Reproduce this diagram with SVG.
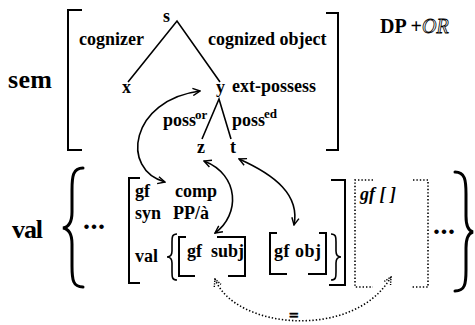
<svg xmlns="http://www.w3.org/2000/svg" width="475" height="325" viewBox="0 0 475 325" font-family="'Liberation Serif', 'DejaVu Serif', serif">
<style>
text{font-weight:bold;fill:#000}
.t{font-size:18px}
.dp{font-size:20px}
.big{font-size:26px}
.sup{font-size:13px}
.dots{font-size:28px}
.ln{fill:none;stroke:#000;stroke-width:1.6}
.br{fill:none;stroke:#000;stroke-width:2}
.dot{fill:none;stroke:#000;stroke-width:1.6;stroke-dasharray:1.4 2}
.brace{fill:none;stroke:#000;stroke-width:3;stroke-linecap:round}
.sbrace{fill:none;stroke:#000;stroke-width:1.6}
</style>
<defs>
<marker id="ah" viewBox="0 0 10 10" refX="9" refY="5" markerWidth="9" markerHeight="9" markerUnits="userSpaceOnUse" orient="auto-start-reverse">
<path d="M1,1 L9,5 L1,9" fill="none" stroke="#000" stroke-width="1.6"/>
</marker>
<marker id="ahd" viewBox="0 0 10 10" refX="9" refY="5" markerWidth="9" markerHeight="9" markerUnits="userSpaceOnUse" orient="auto-start-reverse">
<path d="M1,1 L9,5 L1,9" fill="none" stroke="#000" stroke-width="1.6" stroke-dasharray="1.4 1.4"/>
</marker>
</defs>

<g id="sem">
<text class="big" x="8" y="88" textLength="44">sem</text>
<path class="br" d="M82,10 H68 V150 H82"/>
<path class="br" d="M326,13 H338 V150 H326"/>
</g>
<g id="dp">
<text class="dp" x="380" y="33">DP +<tspan font-style="italic" font-weight="normal" fill="#fff" stroke="#000" stroke-width="0.8">OR</tspan></text>
</g>
<g id="node-s"><text class="t" x="163" y="22">s</text></g>
<g id="node-x"><text class="t" x="122" y="93">x</text></g>
<g id="node-y"><text class="t" x="216" y="93">y</text></g>
<g id="node-z"><text class="t" x="197" y="153">z</text></g>
<g id="node-t"><text class="t" x="230" y="153">t</text></g>
<g id="labels">
<text class="t" x="79" y="45">cognizer</text>
<text class="t" x="208" y="45">cognized object</text>
<text class="t" x="232" y="92">ext-possess</text>
<text class="t" x="163" y="126">poss</text>
<text class="sup" x="195" y="119">or</text>
<text class="t" x="232" y="126">poss</text>
<text class="sup" x="264" y="118">ed</text>
</g>

<g id="val">
<text class="big" x="12" y="238" textLength="31">val</text>
<path class="brace" d="M83,168 C73,168 72,176 72,190 L72,212 C72,222 69,227 63,228 C69,229 72,234 72,244 L72,266 C72,280 73,287 83,287"/>
<text class="dots" x="83" y="229" textLength="22">...</text>
<path class="brace" d="M455,172 C465,172 466,180 466,194 L466,216 C466,226 469,231 473,232 C469,233 466,238 466,248 L466,270 C466,284 465,291 455,291"/>
<text class="dots" x="433" y="234" textLength="22">...</text>
</g>
<g id="comp">
<path class="br" d="M140,178 H129 V283 H140"/>
<path class="br" d="M331,180 H345 V285 H329"/>
<text class="t" x="135" y="197">gf</text>
<text class="t" x="175" y="197">comp</text>
<text class="t" x="135" y="219">syn</text>
<text class="t" x="173" y="219">PP/à</text>
<text class="t" x="135" y="262">val</text>
<path class="sbrace" d="M177,234 C172,234 172,237 172,242 L172,251 C172,255 170,257 167,257 C170,257 172,259 172,263 L172,272 C172,277 172,280 177,280"/>
<path class="sbrace" d="M331,234 C336,234 336,237 336,242 L336,251 C336,255 338,257 341,257 C338,257 336,259 336,263 L336,272 C336,277 336,280 331,280"/>
</g>
<g id="subj">
<path class="br" d="M186,237 H179 V276 H195"/>
<path class="br" d="M217,237 H245 V276 H228"/>
<text class="t" x="187" y="257">gf</text>
<text class="t" x="211" y="257">subj</text>
</g>
<g id="obj">
<path class="br" d="M277,233 H270 V274 H287"/>
<path class="br" d="M319,233 H326 V274 H308"/>
<text class="t" x="274" y="257" textLength="47">gf obj</text>
</g>
<g id="gf-empty">
<path class="dot" d="M373,180 H355 V287 H373"/>
<path class="dot" d="M413,180 H428 V287 H412"/>
<text class="t" x="360" y="200" font-style="italic">gf [ ]</text>
</g>

<g id="connectors">
<path class="ln" d="M128,82 L177,21 L220,82"/>
<path class="ln" d="M202,139 L219,99 L231,139"/>
<path class="ln" d="M200,91 C130,100 120,170 165,182" marker-start="url(#ah)" marker-end="url(#ah)"/>
<path class="ln" d="M204,161 C240,175 240,215 215,233" marker-start="url(#ah)" marker-end="url(#ah)"/>
<path class="ln" d="M239,159 C275,175 300,195 294,225" marker-start="url(#ah)" marker-end="url(#ah)"/>
<path class="dot" d="M215,279 C235,330 355,340 391,277" marker-start="url(#ahd)" marker-end="url(#ahd)"/>
<text x="289" y="321" font-size="17" fill="#999" stroke="#000" stroke-width="0.6">=</text>
</g>
</svg>
